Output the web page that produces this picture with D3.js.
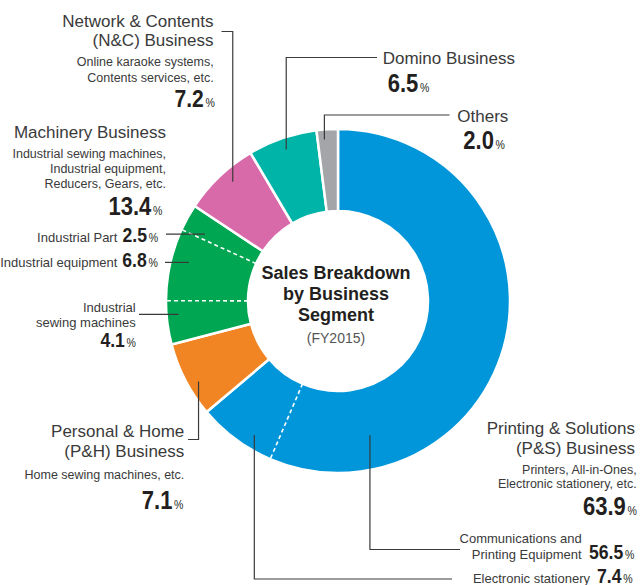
<!DOCTYPE html>
<html>
<head>
<meta charset="utf-8">
<script src="https://cdn.jsdelivr.net/npm/d3@7"></script>
<style>
  body { margin: 0; background: #fff; }
  text { font-family: "Liberation Sans", Arial, sans-serif; }
</style>
</head>
<body>
<div id="chart"></div>
<script>
// Sales breakdown by business segment (FY2015), clockwise from 12 o'clock
const segments = ["P&S", "P&H", "Machinery", "N&C", "Domino", "Others"];
const shares = [63.9, 7.1, 13.4, 7.2, 6.5, 2.0];
const segColors = ["#0096d9", "#f18523", "#00a651", "#d96aaa", "#00b5a8", "#a3a5a8"];

// sub breakdowns inside a segment (clockwise order)
const psSubs = ["Communications and Printing Equipment", "Electronic stationery"];
const psSubShares = [56.5, 7.4];
const machSubs = ["Industrial sewing machines", "Industrial equipment", "Industrial Part"];
const machSubShares = [4.1, 6.8, 2.5];

const width = 641, height = 585;
const cx = 338, cy = 301;
const rOuter = 172, rInner = 90;

const svg = d3.select('#chart').append('svg')
    .attr('width', width)
    .attr('height', height);

const pie = d3.pie().sort(null).value(d => d);
const arcs = pie(shares);
const arc = d3.arc().innerRadius(rInner).outerRadius(rOuter);

const donut = svg.append('g').attr('transform', `translate(${cx},${cy})`);

donut.selectAll('path')
    .data(arcs)
    .enter().append('path')
    .attr('d', arc)
    .attr('fill', (d, i) => segColors[i])
    .attr('stroke', '#fff')
    .attr('stroke-width', 2.5)
    .attr('stroke-linejoin', 'miter');

// angle inside a segment after `part` of its share
function subAngle(segIdx, part) {
    const a = arcs[segIdx];
    return a.startAngle + (a.endAngle - a.startAngle) * part / shares[segIdx];
}

function subBoundaries(segIdx, subShares) {
    const out = [];
    let cum = 0;
    subShares.slice(0, -1).forEach(v => { cum += v; out.push(subAngle(segIdx, cum)); });
    return out;
}

const dividers = subBoundaries(0, psSubShares).concat(subBoundaries(2, machSubShares));
donut.selectAll('line.sub')
    .data(dividers)
    .enter().append('line')
    .attr('class', 'sub')
    .attr('x1', a => rInner * Math.sin(a))
    .attr('y1', a => -rInner * Math.cos(a))
    .attr('x2', a => rOuter * Math.sin(a))
    .attr('y2', a => -rOuter * Math.cos(a))
    .attr('stroke', '#fff')
    .attr('stroke-width', 1.6)
    .attr('stroke-dasharray', '4,3');

// centre title
const centre = svg.append('g').attr('text-anchor', 'middle');
[["Sales Breakdown", 279], ["by Business", 300], ["Segment", 321]].forEach(([t, y]) => {
    centre.append('text').attr('x', 336).attr('y', y)
        .attr('font-size', 18).attr('font-weight', 'bold').attr('fill', '#231f20').text(t);
});
centre.append('text').attr('x', 336).attr('y', 343)
    .attr('font-size', 14).attr('fill', '#555').text('(FY2015)');

// point inside a slice; frac is position across its angular span
function slicePoint(startA, endA, frac, r) {
    const a = startA + (endA - startA) * frac;
    return [cx + r * Math.sin(a), cy - r * Math.cos(a)];
}

function subRange(segIdx, subShares, k) {
    const before = d3.sum(subShares.slice(0, k));
    return [subAngle(segIdx, before), subAngle(segIdx, before + subShares[k])];
}

// leader lines: from label (lx, ly) to a point in the slice
const leaders = [
    { range: [arcs[3].startAngle, arcs[3].endAngle], frac: 0.58, r: 159, lx: 221.5, ly: 31.5, elbow: true },
    { range: [arcs[4].startAngle, arcs[4].endAngle], frac: 0.5, r: 160, lx: 377, ly: 57.5, elbow: true },
    { range: [arcs[5].startAngle, arcs[5].endAngle], frac: 0.33, r: 162, lx: 449.5, ly: 115, elbow: true },
    { range: subRange(2, machSubShares, 2), frac: 0.24, r: 149, lx: 166, elbow: false },
    { range: subRange(2, machSubShares, 1), frac: 0.59, r: 154, lx: 165, elbow: false },
    { range: subRange(2, machSubShares, 0), frac: 0.67, r: 160, lx: 139, elbow: false },
    { range: [arcs[1].startAngle, arcs[1].endAngle], frac: 0.40, r: 161, lx: 188, ly: 439.5, elbow: true },
    { range: subRange(0, psSubShares, 0), frac: 0.82, r: 138, lx: 460, ly: 549.5, elbow: true },
    { range: subRange(0, psSubShares, 1), frac: 0.33, r: 158, lx: 452, ly: 579, elbow: true }
];

svg.append('g').selectAll('path')
    .data(leaders)
    .enter().append('path')
    .attr('d', d => {
        const [ex, ey] = slicePoint(d.range[0], d.range[1], d.frac, d.r);
        if (!d.elbow) return `M${d.lx},${ey}H${ex}`;
        return `M${d.lx},${d.ly}H${ex}V${ey}`;
    })
    .attr('fill', 'none')
    .attr('stroke', '#3a3a3a')
    .attr('stroke-width', 1.2);

// text helpers
const labels = svg.append('g');

function textLines(x, y0, lines, opts) {
    lines.forEach((t, i) => {
        labels.append('text')
            .attr('x', x)
            .attr('y', y0[i])
            .attr('text-anchor', opts.anchor)
            .attr('font-size', opts.size)
            .attr('fill', opts.fill || '#3a3a3a')
            .text(t);
    });
}

function valueLabel(x, y, value, size, anchor) {
    const g = labels.append('g').attr('transform', `translate(${x},${y}) scale(0.88,1)`);
    const t = g.append('text').attr('text-anchor', anchor).attr('fill', '#231f20');
    t.append('tspan').attr('font-size', size).attr('font-weight', 'bold').text(value.toFixed(1));
    t.append('tspan').attr('font-size', 12).attr('dx', 2).text('%');
}

// N&C
textLines(213.5, [26.7, 45.7], ["Network & Contents", "(N&C) Business"], { anchor: 'end', size: 17 });
textLines(213.7, [65.7, 81.7], ["Online karaoke systems,", "Contents services, etc."], { anchor: 'end', size: 12.5 });
valueLabel(215, 107.3, shares[3], 24, 'end');

// Domino, Others
textLines(382.7, [64], ["Domino Business"], { anchor: 'start', size: 17 });
valueLabel(387.7, 92.3, shares[4], 25, 'start');
textLines(457.3, [121.7], ["Others"], { anchor: 'start', size: 17 });
valueLabel(463.3, 149, shares[5], 25, 'start');

// Machinery
textLines(166, [138.3], ["Machinery Business"], { anchor: 'end', size: 17 });
textLines(166, [158.3, 173.3, 188.3], ["Industrial sewing machines,", "Industrial equipment,", "Reducers, Gears, etc."], { anchor: 'end', size: 12.5 });
valueLabel(162.5, 215, shares[2], 25, 'end');

textLines(117.3, [241.7], [machSubs[2]], { anchor: 'end', size: 13 });
valueLabel(122.5, 241.7, machSubShares[2], 20, 'start');
textLines(117.3, [267.3], [machSubs[1]], { anchor: 'end', size: 13 });
valueLabel(122.3, 267.3, machSubShares[1], 20, 'start');
textLines(135.7, [311.7, 326.7], ["Industrial", "sewing machines"], { anchor: 'end', size: 13 });
valueLabel(136, 347.3, machSubShares[0], 20, 'end');

// P&H
textLines(184.3, [436.7, 457.3], ["Personal & Home", "(P&H) Business"], { anchor: 'end', size: 17 });
textLines(184.3, [479.3], ["Home sewing machines, etc."], { anchor: 'end', size: 12.5 });
valueLabel(183.5, 509, shares[1], 25, 'end');

// P&S
textLines(635, [434.3, 454.3], ["Printing & Solutions", "(P&S) Business"], { anchor: 'end', size: 17 });
textLines(636.7, [474, 488.3], ["Printers, All-in-Ones,", "Electronic stationery, etc."], { anchor: 'end', size: 12.5 });
valueLabel(637, 515, shares[0], 25, 'end');

textLines(581.7, [542.7, 559.3], ["Communications and", "Printing Equipment"], { anchor: 'end', size: 13 });
valueLabel(589, 559.3, psSubShares[0], 20, 'start');
textLines(590, [583.3], [psSubs[1]], { anchor: 'end', size: 13 });
valueLabel(597, 583.3, psSubShares[1], 20, 'start');
</script>
</body>
</html>
